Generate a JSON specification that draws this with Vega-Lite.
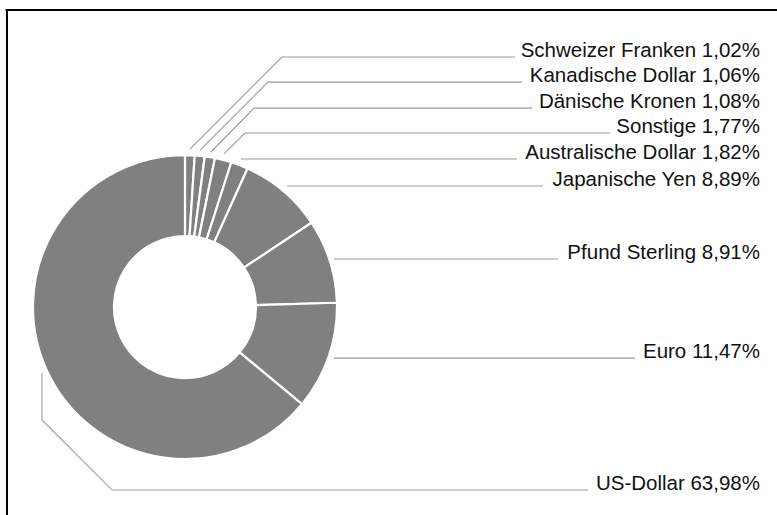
{
  "$schema": "https://vega.github.io/schema/vega-lite/v6.json",
  "width": 777,
  "height": 515,
  "autosize": {"type": "none"},
  "padding": 0,
  "background": "white",
  "config": {"view": {"stroke": null}, "font": "Liberation Sans"},
  "datasets": {
    "currencies": [
      {"name": "Schweizer Franken", "value": 1.02},
      {"name": "Kanadische Dollar", "value": 1.06},
      {"name": "Dänische Kronen", "value": 1.08},
      {"name": "Sonstige", "value": 1.77},
      {"name": "Australische Dollar", "value": 1.82},
      {"name": "Japanische Yen", "value": 8.89},
      {"name": "Pfund Sterling", "value": 8.91},
      {"name": "Euro", "value": 11.47},
      {"name": "US-Dollar", "value": 63.98}
    ],
    "leaders": [
      {"name": "Schweizer Franken", "pt": 1, "x": 0.033, "y": 1.039},
      {"name": "Schweizer Franken", "pt": 2, "x": 0.638, "y": 1.645},
      {"name": "Schweizer Franken", "pt": 3, "x": 2.171, "y": 1.645},
      {"name": "Kanadische Dollar", "pt": 1, "x": 0.099, "y": 1.033},
      {"name": "Kanadische Dollar", "pt": 2, "x": 0.546, "y": 1.480},
      {"name": "Kanadische Dollar", "pt": 3, "x": 2.217, "y": 1.480},
      {"name": "Dänische Kronen", "pt": 1, "x": 0.171, "y": 1.020},
      {"name": "Dänische Kronen", "pt": 2, "x": 0.454, "y": 1.309},
      {"name": "Dänische Kronen", "pt": 3, "x": 2.283, "y": 1.309},
      {"name": "Sonstige", "pt": 1, "x": 0.257, "y": 1.007},
      {"name": "Sonstige", "pt": 2, "x": 0.395, "y": 1.145},
      {"name": "Sonstige", "pt": 3, "x": 2.796, "y": 1.145},
      {"name": "Australische Dollar", "pt": 1, "x": 0.368, "y": 0.974},
      {"name": "Australische Dollar", "pt": 2, "x": 2.184, "y": 0.974},
      {"name": "Japanische Yen", "pt": 1, "x": 0.671, "y": 0.796},
      {"name": "Japanische Yen", "pt": 2, "x": 2.355, "y": 0.796},
      {"name": "Pfund Sterling", "pt": 1, "x": 0.980, "y": 0.316},
      {"name": "Pfund Sterling", "pt": 2, "x": 2.454, "y": 0.316},
      {"name": "Euro", "pt": 1, "x": 0.980, "y": -0.336},
      {"name": "Euro", "pt": 2, "x": 2.961, "y": -0.336},
      {"name": "US-Dollar", "pt": 1, "x": -0.941, "y": -0.434},
      {"name": "US-Dollar", "pt": 2, "x": -0.941, "y": -0.743},
      {"name": "US-Dollar", "pt": 3, "x": -0.480, "y": -1.204},
      {"name": "US-Dollar", "pt": 4, "x": 2.651, "y": -1.204}
    ]
  },
  "layer": [
    {
      "data": {"values": [{}]},
      "mark": {"type": "rule", "stroke": "black", "strokeWidth": 2},
      "encoding": {
        "x": {"datum": -1.18, "type": "quantitative", "scale": {"domain": [-1.217, 3.895], "nice": false, "zero": false}, "axis": null},
        "x2": {"datum": 3.95},
        "y": {"datum": 1.954, "type": "quantitative", "scale": {"domain": [-1.368, 2.02], "nice": false, "zero": false}, "axis": null}
      }
    },
    {
      "data": {"values": [{}]},
      "mark": {"type": "rule", "stroke": "black", "strokeWidth": 2},
      "encoding": {
        "x": {"datum": -1.1711, "type": "quantitative", "scale": {"domain": [-1.217, 3.895], "nice": false, "zero": false}, "axis": null},
        "y": {"datum": 1.96, "type": "quantitative", "scale": {"domain": [-1.368, 2.02], "nice": false, "zero": false}, "axis": null},
        "y2": {"datum": -1.42}
      }
    },
    {
      "data": {"name": "currencies"},
      "mark": {"type": "arc", "innerRadius": 71, "outerRadius": 152, "fill": "#808080", "stroke": "white", "strokeWidth": 2.2},
      "encoding": {
        "theta": {"field": "value", "type": "quantitative", "stack": true},
        "order": {"field": "value", "sort": "ascending"},
        "x": {"datum": 0, "type": "quantitative", "scale": {"domain": [-1.217, 3.895], "nice": false, "zero": false}, "axis": null},
        "y": {"datum": 0, "type": "quantitative", "scale": {"domain": [-1.368, 2.02], "nice": false, "zero": false}, "axis": null}
      }
    },
    {
      "data": {"name": "leaders"},
      "mark": {"type": "line", "stroke": "#999999", "strokeWidth": 1.1, "interpolate": "linear"},
      "encoding": {
        "x": {"field": "x", "type": "quantitative", "scale": {"domain": [-1.217, 3.895], "nice": false, "zero": false}, "axis": null},
        "y": {"field": "y", "type": "quantitative", "scale": {"domain": [-1.368, 2.02], "nice": false, "zero": false}, "axis": null},
        "detail": {"field": "name"},
        "order": {"field": "pt"}
      }
    },
    {
      "data": {"name": "leaders"},
      "transform": [
        {"joinaggregate": [{"op": "max", "field": "pt", "as": "maxpt"}], "groupby": ["name"]},
        {"filter": "datum.pt === datum.maxpt"},
        {"lookup": "name", "from": {"data": {"name": "currencies"}, "key": "name", "fields": ["value"]}},
        {"calculate": "datum.name + ' ' + replace(format(datum.value, '.2f'), '.', ',') + '%'", "as": "label"}
      ],
      "mark": {"type": "text", "align": "right", "baseline": "alphabetic", "fontSize": 20.5, "font": "Liberation Sans", "color": "#111111"},
      "encoding": {
        "x": {"datum": 3.783, "type": "quantitative", "scale": {"domain": [-1.217, 3.895], "nice": false, "zero": false}, "axis": null},
        "y": {"field": "y", "type": "quantitative", "scale": {"domain": [-1.368, 2.02], "nice": false, "zero": false}, "axis": null},
        "text": {"field": "label"}
      }
    }
  ]
}
